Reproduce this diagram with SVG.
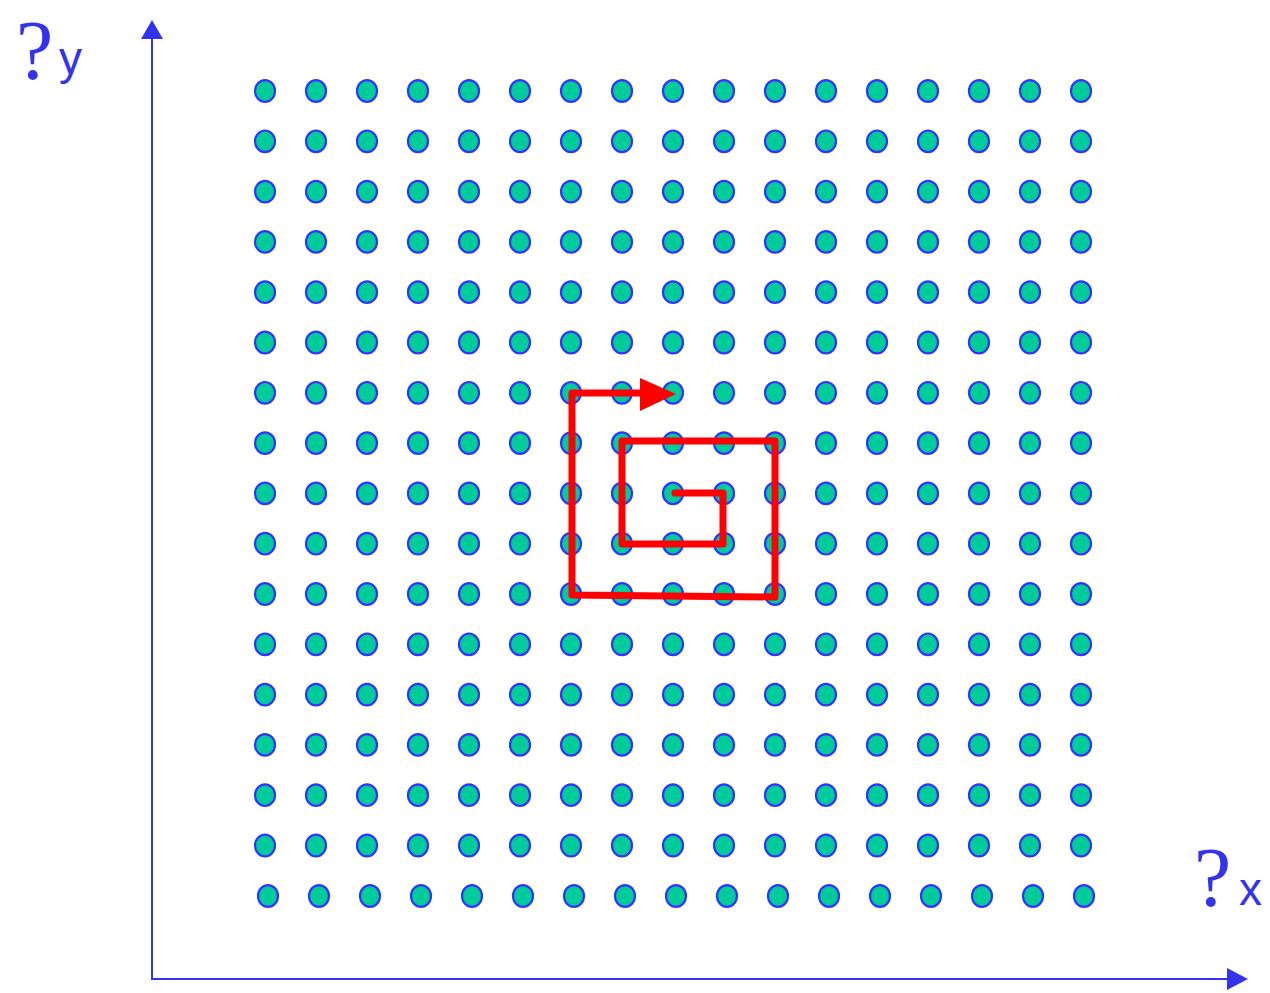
<svg xmlns="http://www.w3.org/2000/svg" width="1270" height="993" viewBox="0 0 1270 993">
<style>
.dot{fill:#00cc99;stroke:#3333ff;stroke-width:2.2}
.axis{stroke:#3333ee;stroke-width:2;fill:none}
.lbl{fill:#3333ee}
.q{font-family:"Liberation Serif","DejaVu Serif","Times New Roman",serif;font-size:84px}
.s{font-family:"Liberation Sans","Arimo",Arial,sans-serif;font-size:46px}
</style>
<defs>
<ellipse id="d" class="dot" rx="10" ry="10.8"/>
<g id="row"><use href="#d" x="265"/><use href="#d" x="316"/><use href="#d" x="367"/><use href="#d" x="418"/><use href="#d" x="469"/><use href="#d" x="520"/><use href="#d" x="571"/><use href="#d" x="622"/><use href="#d" x="673"/><use href="#d" x="724"/><use href="#d" x="775"/><use href="#d" x="826"/><use href="#d" x="877"/><use href="#d" x="928"/><use href="#d" x="979"/><use href="#d" x="1030"/><use href="#d" x="1081"/></g>
</defs>
<rect width="1270" height="993" fill="#fff"/>
<g id="dots">
<use href="#row" y="91"/>
<use href="#row" y="141.3"/>
<use href="#row" y="191.6"/>
<use href="#row" y="241.9"/>
<use href="#row" y="292.2"/>
<use href="#row" y="342.5"/>
<use href="#row" y="392.8"/>
<use href="#row" y="443.1"/>
<use href="#row" y="493.4"/>
<use href="#row" y="543.7"/>
<use href="#row" y="594"/>
<use href="#row" y="644.3"/>
<use href="#row" y="694.6"/>
<use href="#row" y="744.9"/>
<use href="#row" y="795.2"/>
<use href="#row" y="845.5"/>
<use href="#row" x="3" y="896"/>
</g>
<g id="axes">
<line class="axis" x1="152" y1="979" x2="152" y2="36"/>
<polygon points="152,20 141,39 163,39" fill="#3333ee"/>
<line class="axis" x1="151" y1="979" x2="1230" y2="979"/>
<polygon points="1248,979 1227,968 1227,990" fill="#3333ee"/>
</g>
<g id="labels">
<text class="lbl q" x="16" y="79">?</text>
<text class="lbl s" x="59" y="74">y</text>
<text class="lbl q" x="1194" y="906">?</text>
<text class="lbl s" x="1239" y="905">x</text>
</g>
<g id="spiral">
<polyline points="675,493 723,493 723,544 622,544 622,441 775,441 775,597 572,595 572,393 642,393" fill="none" stroke="#ff0000" stroke-width="7" stroke-linejoin="round" stroke-linecap="round"/>
<polygon points="640,378 676,394 640,411" fill="#ff0000"/>
</g>
</svg>
